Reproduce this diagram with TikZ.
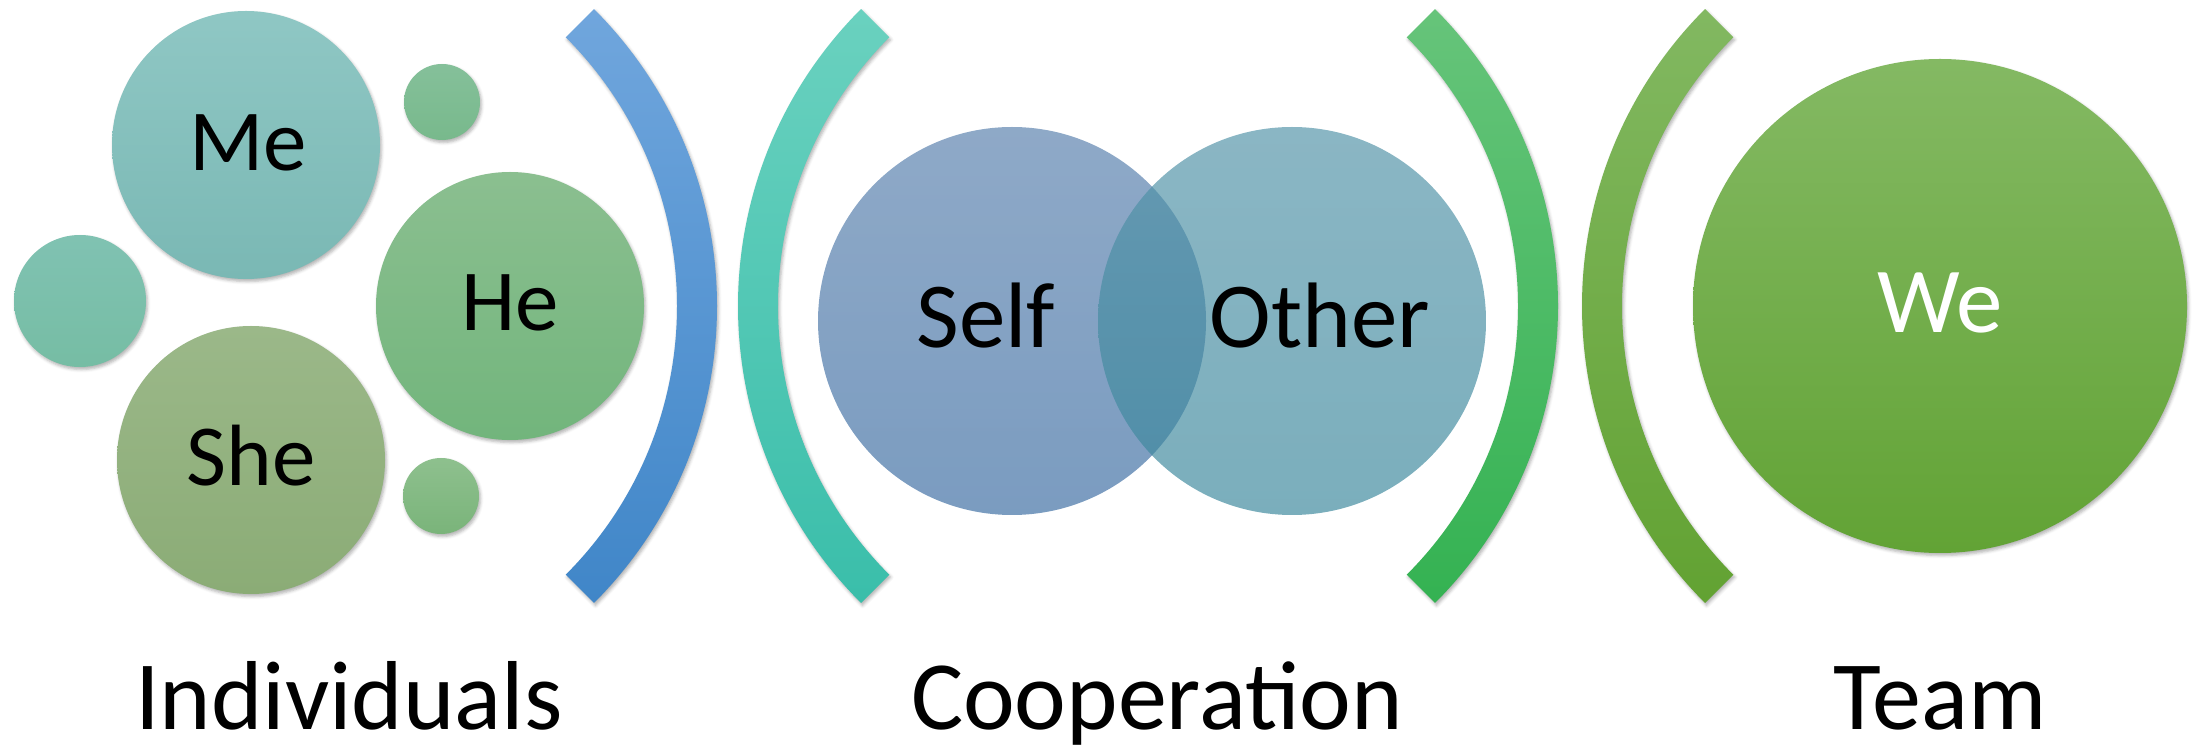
\documentclass[tikz,border=0pt]{standalone}
\usepackage{fontspec}
\setmainfont{Carlito}
\usetikzlibrary{calc,shadows.blur}
\definecolor{meT}{RGB}{143,199,196}\definecolor{meB}{RGB}{122,184,180}
\definecolor{heT}{RGB}{139,191,144}\definecolor{heB}{RGB}{114,181,124}
\definecolor{sheT}{RGB}{155,184,137}\definecolor{sheB}{RGB}{139,172,118}
\definecolor{s1T}{RGB}{133,192,154}\definecolor{s1B}{RGB}{120,185,140}
\definecolor{s2T}{RGB}{128,194,178}\definecolor{s2B}{RGB}{118,189,164}
\definecolor{s3T}{RGB}{142,192,142}\definecolor{s3B}{RGB}{122,180,122}
\definecolor{blT}{RGB}{112,166,221}\definecolor{blB}{RGB}{64,134,200}
\definecolor{tlT}{RGB}{106,209,191}\definecolor{tlB}{RGB}{58,190,170}
\definecolor{g1T}{RGB}{102,196,122}\definecolor{g1B}{RGB}{52,178,82}
\definecolor{g2T}{RGB}{130,184,97}\definecolor{g2B}{RGB}{98,162,50}
\definecolor{weT}{RGB}{132,185,99}\definecolor{weB}{RGB}{98,163,53}
\definecolor{slT}{RGB}{87,127,172}\definecolor{slB}{RGB}{57,107,161}
\definecolor{otT}{RGB}{81,146,167}\definecolor{otB}{RGB}{57,134,155}
\begin{document}
\begin{tikzpicture}[x=1pt,y=1pt,
  shad/.style={blur shadow={shadow xshift=1.5pt,shadow yshift=-2.5pt,shadow blur radius=3pt,shadow opacity=30}},
  bub/.style={circle,inner sep=0pt,draw=none,shad},
  txtA/.style={font=\fontsize{87}{100}\selectfont,anchor=base},
  txtB/.style={font=\fontsize{93}{106}\selectfont,anchor=base},
  lab/.style={font=\fontsize{98}{110}\selectfont,anchor=base,inner sep=0pt,text depth=0pt}]
\useasboundingbox (0,0) rectangle (2192,750);
% individuals
\node[bub,minimum size=268pt,top color=meT,bottom color=meB] (me) at (246,605) {};
\node[bub,minimum size=76pt,top color=s1T,bottom color=s1B] (sa) at (442,648) {};
\node[bub,minimum size=132pt,top color=s2T,bottom color=s2B] (sb) at (80,449) {};
\node[bub,minimum size=268pt,top color=heT,bottom color=heB] (he) at (510,444) {};
\node[bub,minimum size=268pt,top color=sheT,bottom color=sheB] (she) at (251,290) {};
\node[bub,minimum size=76pt,top color=s3T,bottom color=s3B] (sc) at (441,254) {};
\node[txtA] (tme) at (248,579) {Me};
\node[txtA] (the) at (510,419) {He};
\node[txtA] (tshe) at (251,264) {She};
% arcs
\shade[top color=blT,bottom color=blB,shad] ($(297,444)+(-45:420)$) arc[start angle=-45,end angle=45,radius=420] -- ++(225:40) arc[start angle=45,end angle=-45,radius=380] -- cycle;
\shade[top color=tlT,bottom color=tlB,shad] ($(1158,444)+(135:420)$) arc[start angle=135,end angle=225,radius=420] -- ++(45:40) arc[start angle=225,end angle=135,radius=380] -- cycle;
\shade[top color=g1T,bottom color=g1B,shad] ($(1138,444)+(-45:420)$) arc[start angle=-45,end angle=45,radius=420] -- ++(225:40) arc[start angle=45,end angle=-45,radius=380] -- cycle;
\shade[top color=g2T,bottom color=g2B,shad] ($(2002,444)+(135:420)$) arc[start angle=135,end angle=225,radius=420] -- ++(45:40) arc[start angle=225,end angle=135,radius=380] -- cycle;
% cooperation
\node[circle,inner sep=0pt,minimum size=388pt,top color=slT,bottom color=slB,fill opacity=0.67] (self) at (1012,429) {};
\node[circle,inner sep=0pt,minimum size=388pt,top color=otT,bottom color=otB,fill opacity=0.67] (other) at (1292,429) {};
\node[txtB] (tself) at (986,402) {Self};
\node[txtB] (tother) at (1320,402) {Other};
% team
\node[bub,minimum size=494pt,top color=weT,bottom color=weB] (we) at (1940,444) {};
\node[txtB,text=white] (twe) at (1940,417) {We};
% labels
\node[lab] (lind) at (349,21) {Individuals};
\node[lab] (lcoop) at (1157,21) {Cooperation};
\node[lab] (lteam) at (1940,21) {Team};
\end{tikzpicture}
\end{document}
